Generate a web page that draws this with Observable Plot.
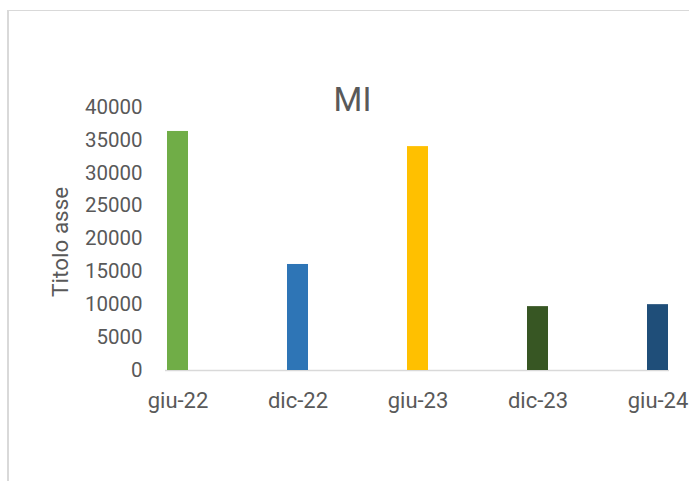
<!DOCTYPE html>
<html>
<head>
<meta charset="utf-8">
<script src="https://cdn.jsdelivr.net/npm/d3@7"></script>
<script src="https://cdn.jsdelivr.net/npm/@observablehq/plot@0.6"></script>
<style>
  html, body { margin: 0; padding: 0; background: #fff; }
  #wrap { position: relative; width: 689px; height: 481px; overflow: hidden; }
  #frame { position: absolute; left: 7px; top: 10px; width: 720px; height: 520px;
           border-top: 1.5px solid #d9d9d9; border-left: 2px solid #d9d9d9; box-sizing: border-box; }
  #chart { position: absolute; left: 0; top: 0; }
</style>
</head>
<body>
<div id="wrap"><div id="frame"></div><div id="chart"></div></div>
<script>
const categories = ["giu-22", "dic-22", "giu-23", "dic-23", "giu-24"];
const values = [36300, 16100, 34000, 9700, 10000];
const barColors = ["#70AD47", "#2E75B6", "#FFC000", "#375623", "#1F4E79"];
const yTicks = [0, 5000, 10000, 15000, 20000, 25000, 30000, 35000, 40000];
const chartTitle = "MI";
const yTitle = "Titolo asse";

const data = categories.map((c, i) => ({cat: c, value: values[i], color: barColors[i]}));

const chart = Plot.plot({
  width: 689,
  height: 481,
  marginLeft: 165,
  marginRight: 20,
  marginTop: 106.6,
  marginBottom: 111,
  style: {fontFamily: "Roboto, 'Noto Sans', sans-serif", fontSize: "20px", color: "#595959", background: "transparent", overflow: "visible"},
  x: {domain: categories, paddingInner: 0.826, paddingOuter: 0, label: null},
  y: {domain: [0, 40000], label: null},
  color: {type: "identity"},
  marks: [
    Plot.ruleY([0], {stroke: "#d9d9d9", strokeWidth: 1.5}),
    Plot.barY(data, {x: "cat", y: "value", fill: "color"}),
    Plot.axisX({tickSize: 0, tickPadding: 22, fontSize: 22, label: null}),
    Plot.axisY({ticks: yTicks, tickSize: 0, tickPadding: 23, fontSize: 20.5, tickFormat: d => String(d), label: null}),
    Plot.text([yTitle], {frameAnchor: "left", dx: -105, dy: 3, rotate: -90, textAnchor: "middle", lineAnchor: "middle", fontSize: 22.5, fill: "#595959"}),
    Plot.text([chartTitle], {frameAnchor: "top", dx: -65, dy: -7, textAnchor: "middle", lineAnchor: "middle", fontSize: 33, fill: "#595959"})
  ]
});
document.getElementById("chart").appendChild(chart);
</script>
</body>
</html>
